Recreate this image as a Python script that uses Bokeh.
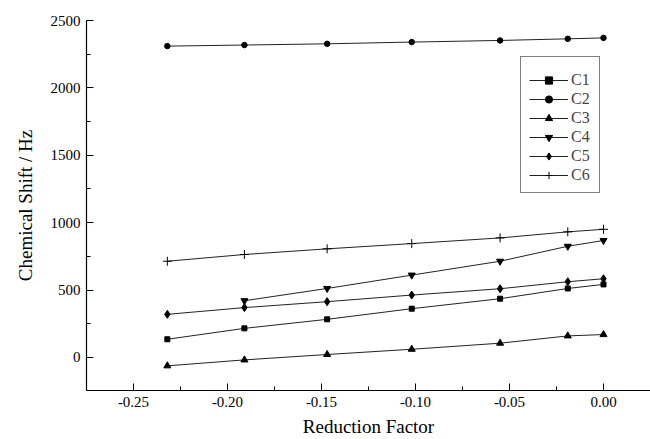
from bokeh.plotting import figure
from bokeh.embed import file_html
from bokeh.resources import INLINE
from bokeh.models import SingleIntervalTicker, NumeralTickFormatter, Legend, LegendItem

x_all = [-0.232, -0.191, -0.147, -0.102, -0.055, -0.019, 0.0]
x_c4 = [-0.191, -0.147, -0.102, -0.055, -0.019, 0.0]

c1 = [135, 216, 283, 362, 436, 512, 542]
c2 = [2310, 2318, 2327, 2340, 2352, 2364, 2371]
c3 = [-62, -18, 22, 61, 106, 160, 170]
c4 = [421, 512, 611, 714, 825, 868]
c5 = [320, 370, 414, 463, 510, 562, 584]
c6 = [714, 764, 806, 845, 887, 932, 951]

series = [
    ("C1", x_all, c1, "square", 5),
    ("C2", x_all, c2, "circle", 5.5),
    ("C3", x_all, c3, "triangle", 7),
    ("C4", x_c4, c4, "inverted_triangle", 7),
    ("C5", x_all, c5, "diamond", 8),
    ("C6", x_all, c6, "cross", 9),
]

FONT = "Liberation Serif"

p = figure(width=650, height=439, output_backend="svg", toolbar_location=None,
           x_range=(-0.275, 0.025), y_range=(-245, 2500),
           min_border_left=86, min_border_right=0, min_border_top=20, min_border_bottom=48)
p.outline_line_color = None
p.xgrid.visible = False
p.ygrid.visible = False
p.background_fill_color = "white"

items = []
for name, xs, ys, mk, sz in series:
    r1 = p.line(xs, ys, line_color="#222222", line_width=1)
    r2 = p.scatter(xs, ys, marker=mk, size=sz, fill_color="black", line_color="black",
                   line_width=1)
    items.append(LegendItem(label=name, renderers=[r1, r2]))

legend = Legend(items=items, location=(434, 197), padding=8, spacing=1,
                glyph_width=39, glyph_height=18, label_height=18, label_standoff=3,
                label_text_font=FONT, label_text_font_size="16px",
                border_line_color="black", border_line_width=1,
                background_fill_alpha=1, title=" ", title_text_font_size="5px",
                title_standoff=0)
p.add_layout(legend, "center")

p.axis.axis_line_color = "black"
p.axis.axis_line_width = 1.2
p.axis.major_tick_in = 7
p.axis.major_tick_out = 0
p.axis.minor_tick_in = 4
p.axis.minor_tick_out = 0
p.axis.major_tick_line_color = "black"
p.axis.minor_tick_line_color = "black"
p.axis.major_label_text_font = FONT
p.axis.major_label_text_font_size = "15px"
p.axis.major_label_text_color = "black"
p.axis.axis_label_text_font = FONT
p.axis.axis_label_text_font_size = "19px"
p.axis.axis_label_text_font_style = "normal"
p.axis.axis_label_text_color = "black"
p.axis.major_label_standoff = 6

p.xaxis.ticker = SingleIntervalTicker(interval=0.05, num_minor_ticks=2)
p.xaxis.formatter = NumeralTickFormatter(format="0.00")
p.yaxis.ticker = SingleIntervalTicker(interval=500, num_minor_ticks=2)
p.xaxis.axis_label = "Reduction Factor"
p.yaxis.axis_label = "Chemical Shift / Hz"
p.xaxis.axis_label_standoff = 6
p.yaxis.axis_label_standoff = 12

open("out.html", "w").write(file_html(p, INLINE))
